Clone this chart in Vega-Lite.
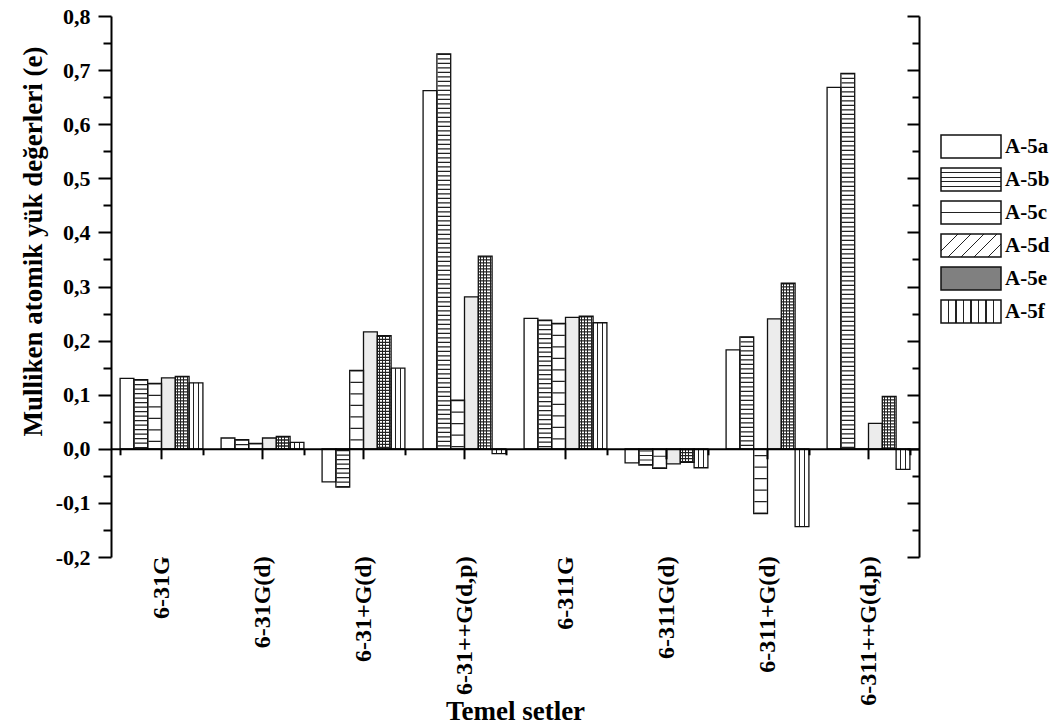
{
  "$schema": "https://vega.github.io/schema/vega-lite/v6.json",
  "autosize": {"type": "pad"},
  "padding": {"left": 18, "top": 5, "right": 5, "bottom": 0},
  "background": "white",
  "config": {"view": {"stroke": null}, "font": "Liberation Serif"},
  "bounds": "flush",
  "spacing": 22,
  "data": {"values": [
    {"group": "6-31G", "series": "A-5a", "value": 0.130},
    {"group": "6-31G", "series": "A-5b", "value": 0.128},
    {"group": "6-31G", "series": "A-5c", "value": 0.121},
    {"group": "6-31G", "series": "A-5d", "value": 0.131},
    {"group": "6-31G", "series": "A-5e", "value": 0.134},
    {"group": "6-31G", "series": "A-5f", "value": 0.122},
    {"group": "6-31G(d)", "series": "A-5a", "value": 0.020},
    {"group": "6-31G(d)", "series": "A-5b", "value": 0.017},
    {"group": "6-31G(d)", "series": "A-5c", "value": 0.010},
    {"group": "6-31G(d)", "series": "A-5d", "value": 0.020},
    {"group": "6-31G(d)", "series": "A-5e", "value": 0.023},
    {"group": "6-31G(d)", "series": "A-5f", "value": 0.012},
    {"group": "6-31+G(d)", "series": "A-5a", "value": -0.061},
    {"group": "6-31+G(d)", "series": "A-5b", "value": -0.071},
    {"group": "6-31+G(d)", "series": "A-5c", "value": 0.145},
    {"group": "6-31+G(d)", "series": "A-5d", "value": 0.216},
    {"group": "6-31+G(d)", "series": "A-5e", "value": 0.209},
    {"group": "6-31+G(d)", "series": "A-5f", "value": 0.149},
    {"group": "6-31++G(d,p)", "series": "A-5a", "value": 0.662},
    {"group": "6-31++G(d,p)", "series": "A-5b", "value": 0.730},
    {"group": "6-31++G(d,p)", "series": "A-5c", "value": 0.090},
    {"group": "6-31++G(d,p)", "series": "A-5d", "value": 0.281},
    {"group": "6-31++G(d,p)", "series": "A-5e", "value": 0.356},
    {"group": "6-31++G(d,p)", "series": "A-5f", "value": -0.009},
    {"group": "6-311G", "series": "A-5a", "value": 0.241},
    {"group": "6-311G", "series": "A-5b", "value": 0.238},
    {"group": "6-311G", "series": "A-5c", "value": 0.232},
    {"group": "6-311G", "series": "A-5d", "value": 0.243},
    {"group": "6-311G", "series": "A-5e", "value": 0.245},
    {"group": "6-311G", "series": "A-5f", "value": 0.233},
    {"group": "6-311G(d)", "series": "A-5a", "value": -0.026},
    {"group": "6-311G(d)", "series": "A-5b", "value": -0.030},
    {"group": "6-311G(d)", "series": "A-5c", "value": -0.036},
    {"group": "6-311G(d)", "series": "A-5d", "value": -0.028},
    {"group": "6-311G(d)", "series": "A-5e", "value": -0.025},
    {"group": "6-311G(d)", "series": "A-5f", "value": -0.035},
    {"group": "6-311+G(d)", "series": "A-5a", "value": 0.183},
    {"group": "6-311+G(d)", "series": "A-5b", "value": 0.207},
    {"group": "6-311+G(d)", "series": "A-5c", "value": -0.120},
    {"group": "6-311+G(d)", "series": "A-5d", "value": 0.240},
    {"group": "6-311+G(d)", "series": "A-5e", "value": 0.306},
    {"group": "6-311+G(d)", "series": "A-5f", "value": -0.144},
    {"group": "6-311++G(d,p)", "series": "A-5a", "value": 0.668},
    {"group": "6-311++G(d,p)", "series": "A-5b", "value": 0.694},
    {"group": "6-311++G(d,p)", "series": "A-5c", "value": 0.0},
    {"group": "6-311++G(d,p)", "series": "A-5d", "value": 0.047},
    {"group": "6-311++G(d,p)", "series": "A-5e", "value": 0.097},
    {"group": "6-311++G(d,p)", "series": "A-5f", "value": -0.038}
  ]},
  "hconcat": [
    {
      "width": 808,
      "height": 541,
      "resolve": {"axis": {"x": "independent", "y": "independent"}},
      "layer": [
        {
          "mark": {"type": "bar", "strokeWidth": 0},
          "encoding": {
            "x": {"field": "group", "type": "nominal",
              "sort": ["6-31G", "6-31G(d)", "6-31+G(d)", "6-31++G(d,p)", "6-311G", "6-311G(d)", "6-311+G(d)", "6-311++G(d,p)"],
              "scale": {"paddingInner": 0.18, "paddingOuter": 0.09},
              "axis": {"orient": "bottom", "offset": -108.2, "zindex": 2, "domain": true, "domainColor": "black", "domainWidth": 2,
                "ticks": true, "tickColor": "black", "tickWidth": 2, "tickSize": 10,
                "labelAngle": -90, "labelAlign": "right", "labelBaseline": "middle", "labelPadding": 97,
                "labelFont": "Liberation Serif", "labelFontWeight": "bold", "labelFontSize": 24, "labelColor": "black", "labelLimit": 300,
                "title": "Temel setler", "titleFont": "Liberation Serif", "titleFontWeight": "bold", "titleFontSize": 27, "titleColor": "black",
                "titleY": 271, "titleBaseline": "alphabetic", "grid": false}},
            "xOffset": {"field": "series", "type": "nominal", "sort": ["A-5a", "A-5b", "A-5c", "A-5d", "A-5e", "A-5f"], "scale": {"paddingInner": 0, "paddingOuter": 0}},
            "y": {"field": "value", "type": "quantitative", "scale": {"domain": [-0.2, 0.8], "nice": false, "zero": false},
              "axis": {"orient": "left", "zindex": 2, "values": [-0.2, -0.1, 0, 0.1, 0.2, 0.3, 0.4, 0.5, 0.6, 0.7, 0.8],
                "labelExpr": "datum.value < -0.0001 ? '-' + replace(format(-datum.value, '.1f'), '.', ',') : replace(format(abs(datum.value), '.1f'), '.', ',')",
                "domain": true, "domainColor": "black", "domainWidth": 2, "tickColor": "black", "tickWidth": 2, "tickSize": 13,
                "labelFont": "Liberation Serif", "labelFontWeight": "bold", "labelFontSize": 22, "labelColor": "black", "labelPadding": 8,
                "title": "Mulliken atomik yük değerleri (e)", "titleFont": "Liberation Serif", "titleFontWeight": "bold", "titleFontSize": 27, "titleColor": "black",
                "titleAngle": -90, "titleX": -70, "titleY": 225, "titleAlign": "center", "titleBaseline": "alphabetic", "grid": false}},
            "y2": {"datum": 0},
            "fill": {"condition": [
              {"test": "datum.series === 'A-5f'", "value": {"gradient": "linear", "x1": 0, "y1": 0, "x2": 1, "y2": 0, "stops": [
                {"offset": 0, "color": "white"}, {"offset": 0.31, "color": "white"}, {"offset": 0.31, "color": "#222222"}, {"offset": 0.39, "color": "#222222"}, {"offset": 0.39, "color": "white"},
                {"offset": 0.64, "color": "white"}, {"offset": 0.64, "color": "#222222"}, {"offset": 0.72, "color": "#222222"}, {"offset": 0.72, "color": "white"}, {"offset": 1, "color": "white"}]}},
              {"test": "datum.series === 'A-5e'", "value": {"gradient": "linear", "x1": 0, "y1": 0, "x2": 1, "y2": 0, "stops": [
                {"offset": 0, "color": "white"}, {"offset": 0.095, "color": "white"}, {"offset": 0.095, "color": "#222222"}, {"offset": 0.185, "color": "#222222"}, {"offset": 0.185, "color": "white"},
                {"offset": 0.335, "color": "white"}, {"offset": 0.335, "color": "#222222"}, {"offset": 0.425, "color": "#222222"}, {"offset": 0.425, "color": "white"},
                {"offset": 0.575, "color": "white"}, {"offset": 0.575, "color": "#222222"}, {"offset": 0.665, "color": "#222222"}, {"offset": 0.665, "color": "white"},
                {"offset": 0.815, "color": "white"}, {"offset": 0.815, "color": "#222222"}, {"offset": 0.905, "color": "#222222"}, {"offset": 0.905, "color": "white"}, {"offset": 1, "color": "white"}]}},
              {"test": "datum.series === 'A-5d'", "value": "#ececec"}
            ], "value": "white"}
          }
        },
        {
          "transform": [{"filter": "datum.series === 'A-5b' || datum.series === 'A-5c'"}],
          "mark": {"type": "rule", "strokeWidth": 12.4, "strokeCap": "butt", "color": "#222222"},
          "encoding": {
            "x": {"field": "group", "type": "nominal",
              "sort": ["6-31G", "6-31G(d)", "6-31+G(d)", "6-31++G(d,p)", "6-311G", "6-311G(d)", "6-311+G(d)", "6-311++G(d,p)"],
              "axis": {"orient": "bottom", "offset": -108.2, "zindex": 2, "domain": false, "labels": false, "title": null, "grid": false,
                "tickBand": "extent", "tickColor": "black", "tickWidth": 2, "tickSize": 6}},
            "xOffset": {"field": "series", "type": "nominal", "sort": ["A-5a", "A-5b", "A-5c", "A-5d", "A-5e", "A-5f"]},
            "y": {"field": "value", "type": "quantitative",
              "axis": {"orient": "left", "zindex": 2, "values": [-0.15, -0.05, 0.05, 0.15, 0.25, 0.35, 0.45, 0.55, 0.65, 0.75],
                "domain": false, "labels": false, "title": null, "grid": false, "tickColor": "black", "tickWidth": 2, "tickSize": 8}},
            "y2": {"datum": 0},
            "strokeDash": {"condition": {"test": "datum.series === 'A-5b'", "value": [1.1, 3.4]}, "value": [1.1, 10.4]}
          }
        },
        {
          "transform": [{"filter": "datum.series === 'A-5e'"}],
          "mark": {"type": "rule", "strokeWidth": 12.4, "strokeCap": "butt", "color": "#222222", "strokeDash": [1.3, 1.7]},
          "encoding": {
            "x": {"field": "group", "type": "nominal",
              "sort": ["6-31G", "6-31G(d)", "6-31+G(d)", "6-31++G(d,p)", "6-311G", "6-311G(d)", "6-311+G(d)", "6-311++G(d,p)"], "axis": null},
            "xOffset": {"field": "series", "type": "nominal", "sort": ["A-5a", "A-5b", "A-5c", "A-5d", "A-5e", "A-5f"]},
            "y": {"field": "value", "type": "quantitative",
              "axis": {"orient": "right", "zindex": 2, "values": [-0.15, -0.05, 0.05, 0.15, 0.25, 0.35, 0.45, 0.55, 0.65, 0.75],
                "domain": false, "labels": false, "title": null, "grid": false, "tickColor": "black", "tickWidth": 2, "tickSize": -7}},
            "y2": {"datum": 0}
          }
        },
        {
          "mark": {"type": "bar", "filled": false, "stroke": "#111111", "strokeWidth": 1.3},
          "encoding": {
            "x": {"field": "group", "type": "nominal",
              "sort": ["6-31G", "6-31G(d)", "6-31+G(d)", "6-31++G(d,p)", "6-311G", "6-311G(d)", "6-311+G(d)", "6-311++G(d,p)"], "axis": null},
            "xOffset": {"field": "series", "type": "nominal", "sort": ["A-5a", "A-5b", "A-5c", "A-5d", "A-5e", "A-5f"]},
            "y": {"field": "value", "type": "quantitative",
              "axis": {"orient": "right", "zindex": 2, "values": [-0.2, -0.1, 0, 0.1, 0.2, 0.3, 0.4, 0.5, 0.6, 0.7, 0.8],
                "domain": true, "domainColor": "black", "domainWidth": 2, "labels": false, "title": null, "grid": false,
                "tickColor": "black", "tickWidth": 2, "tickSize": -12}},
            "y2": {"datum": 0}
          }
        }
      ]
    },
    {
      "width": 60,
      "height": 541,
      "transform": [{"aggregate": [{"op": "count", "as": "n"}], "groupby": ["series"]}],
      "layer": [
        {
          "mark": {"type": "bar", "stroke": "#111111", "strokeWidth": 1.5},
          "encoding": {
            "y": {"field": "series", "type": "nominal", "sort": ["A-5a", "A-5b", "A-5c", "A-5d", "A-5e", "A-5f"], "axis": null,
              "scale": {"paddingInner": 0.30303, "paddingOuter": 0, "range": [119, 307]}},
            "fill": {"condition": [
              {"test": "datum.series === 'A-5b'", "value": {"gradient": "linear", "x1": 0, "y1": 0, "x2": 0, "y2": 1, "stops": [
                {"offset": 0, "color": "white"}, {"offset": 0.175, "color": "white"}, {"offset": 0.175, "color": "#222222"}, {"offset": 0.225, "color": "#222222"}, {"offset": 0.225, "color": "white"},
                {"offset": 0.375, "color": "white"}, {"offset": 0.375, "color": "#222222"}, {"offset": 0.425, "color": "#222222"}, {"offset": 0.425, "color": "white"},
                {"offset": 0.575, "color": "white"}, {"offset": 0.575, "color": "#222222"}, {"offset": 0.625, "color": "#222222"}, {"offset": 0.625, "color": "white"},
                {"offset": 0.775, "color": "white"}, {"offset": 0.775, "color": "#222222"}, {"offset": 0.825, "color": "#222222"}, {"offset": 0.825, "color": "white"}, {"offset": 1, "color": "white"}]}},
              {"test": "datum.series === 'A-5c'", "value": {"gradient": "linear", "x1": 0, "y1": 0, "x2": 0, "y2": 1, "stops": [
                {"offset": 0, "color": "white"}, {"offset": 0.475, "color": "white"}, {"offset": 0.475, "color": "#222222"}, {"offset": 0.525, "color": "#222222"}, {"offset": 0.525, "color": "white"}, {"offset": 1, "color": "white"}]}},
              {"test": "datum.series === 'A-5d'", "value": {"gradient": "linear", "x1": 0, "y1": 0, "x2": 1.206, "y2": 0.462, "stops": [
                {"offset": 0, "color": "white"},
                {"offset": 0.195, "color": "white"}, {"offset": 0.195, "color": "#222222"}, {"offset": 0.215, "color": "#222222"}, {"offset": 0.215, "color": "white"},
                {"offset": 0.351, "color": "white"}, {"offset": 0.351, "color": "#222222"}, {"offset": 0.371, "color": "#222222"}, {"offset": 0.371, "color": "white"},
                {"offset": 0.508, "color": "white"}, {"offset": 0.508, "color": "#222222"}, {"offset": 0.528, "color": "#222222"}, {"offset": 0.528, "color": "white"},
                {"offset": 0.665, "color": "white"}, {"offset": 0.665, "color": "#222222"}, {"offset": 0.685, "color": "#222222"}, {"offset": 0.685, "color": "white"},
                {"offset": 0.833, "color": "white"}, {"offset": 0.833, "color": "#222222"}, {"offset": 0.853, "color": "#222222"}, {"offset": 0.853, "color": "white"},
                {"offset": 1, "color": "white"}]}},
              {"test": "datum.series === 'A-5e'", "value": "#808080"},
              {"test": "datum.series === 'A-5f'", "value": {"gradient": "linear", "x1": 0, "y1": 0, "x2": 1, "y2": 0, "stops": [
                {"offset": 0, "color": "white"},
                {"offset": 0.115, "color": "white"}, {"offset": 0.115, "color": "#222222"}, {"offset": 0.135, "color": "#222222"}, {"offset": 0.135, "color": "white"},
                {"offset": 0.24, "color": "white"}, {"offset": 0.24, "color": "#222222"}, {"offset": 0.26, "color": "#222222"}, {"offset": 0.26, "color": "white"},
                {"offset": 0.365, "color": "white"}, {"offset": 0.365, "color": "#222222"}, {"offset": 0.385, "color": "#222222"}, {"offset": 0.385, "color": "white"},
                {"offset": 0.49, "color": "white"}, {"offset": 0.49, "color": "#222222"}, {"offset": 0.51, "color": "#222222"}, {"offset": 0.51, "color": "white"},
                {"offset": 0.615, "color": "white"}, {"offset": 0.615, "color": "#222222"}, {"offset": 0.635, "color": "#222222"}, {"offset": 0.635, "color": "white"},
                {"offset": 0.74, "color": "white"}, {"offset": 0.74, "color": "#222222"}, {"offset": 0.76, "color": "#222222"}, {"offset": 0.76, "color": "white"},
                {"offset": 0.865, "color": "white"}, {"offset": 0.865, "color": "#222222"}, {"offset": 0.885, "color": "#222222"}, {"offset": 0.885, "color": "white"},
                {"offset": 1, "color": "white"}]}}
            ], "value": "white"}
          }
        },
        {
          "mark": {"type": "text", "align": "left", "baseline": "middle", "dx": 34, "font": "Liberation Serif", "fontWeight": "bold", "fontSize": 21, "color": "black"},
          "encoding": {
            "y": {"field": "series", "type": "nominal", "sort": ["A-5a", "A-5b", "A-5c", "A-5d", "A-5e", "A-5f"], "axis": null},
            "text": {"field": "series"}
          }
        }
      ]
    }
  ]
}
